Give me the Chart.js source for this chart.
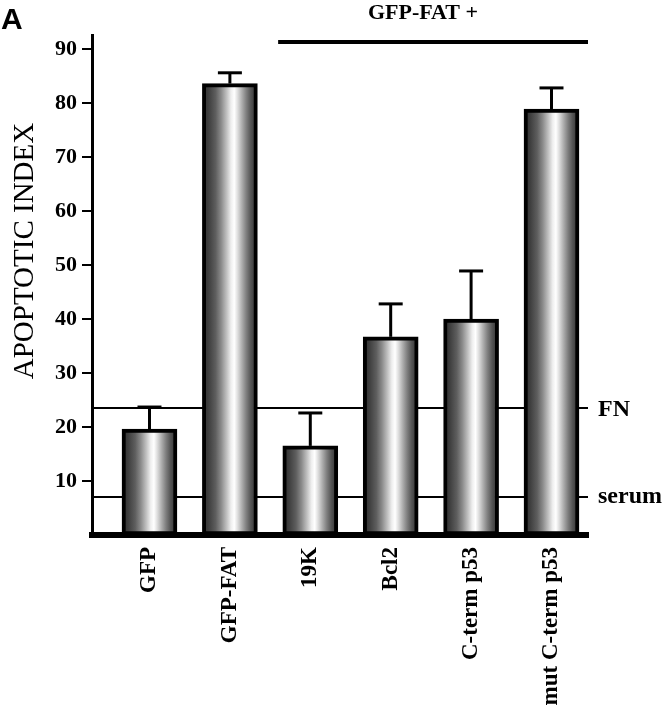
<!DOCTYPE html>
<html><head><meta charset="utf-8">
<script src="https://cdn.jsdelivr.net/npm/chart.js@4/dist/chart.umd.min.js"></script>
<style>html,body{margin:0;padding:0;background:#fff}#wrap{width:670px;height:719px}</style>
</head><body><div id="wrap"><canvas id="c" width="670" height="719"></canvas></div>
<script>
// ---- data ----
const categories = ['GFP', 'GFP-FAT', '19K', 'Bcl2', 'C-term p53', 'mut C-term p53'];
const apoptoticIndex = [19.6, 83.6, 16.5, 36.7, 40.0, 78.9];
const errorUp = [4.1, 2.0, 6.1, 6.1, 8.9, 3.9];
const yTicks = [10, 20, 30, 40, 50, 60, 70, 80, 90];
const refLabels = ['FN', 'serum'];
const refValues = [23.6, 7.1];
const yTitle = 'APOPTOTIC INDEX';
const groupLabel = 'GFP-FAT +';
const panelLabel = 'A';

const SERIF = "'Liberation Serif', 'DejaVu Serif', serif";
const BAR_W = 55;

function barGradient(ctx) {
  const chart = ctx.chart;
  if (!chart.chartArea || !chart.scales.x) return '#888';
  const cx = chart.scales.x.getPixelForValue(ctx.dataIndex);
  const g = chart.ctx.createLinearGradient(cx - BAR_W / 2, 0, cx + BAR_W / 2, 0);
  const stops = [[0, '#2a2a2a'], [0.12, '#404040'], [0.24, '#5e5e5e'], [0.34, '#8a8a8a'], [0.44, '#c0c0c0'],
    [0.52, '#eeeeee'], [0.58, '#ffffff'], [0.64, '#dedede'], [0.72, '#adadad'], [0.8, '#7e7e7e'],
    [0.88, '#555555'], [1, '#2a2a2a']];
  stops.forEach(s => g.addColorStop(s[0], s[1]));
  return g;
}

const overlay = {
  id: 'overlay',
  beforeDatasetsDraw(chart) {
    const { ctx, chartArea: a, scales: { y } } = chart;
    ctx.save();
    ctx.strokeStyle = '#000';
    ctx.lineWidth = 2;
    refValues.forEach(v => {
      const py = Math.round(y.getPixelForValue(v));
      ctx.beginPath(); ctx.moveTo(a.left, py); ctx.lineTo(a.right, py); ctx.stroke();
    });
    ctx.restore();
  },
  afterDatasetsDraw(chart) {
    const { ctx, chartArea: a, scales: { x, y } } = chart;
    ctx.save();
    // error bars
    ctx.strokeStyle = '#000';
    ctx.lineWidth = 3;
    apoptoticIndex.forEach((v, i) => {
      const px = x.getPixelForValue(i);
      const p0 = y.getPixelForValue(v);
      const p1 = y.getPixelForValue(v + errorUp[i]);
      ctx.beginPath(); ctx.moveTo(px, p0); ctx.lineTo(px, p1); ctx.stroke();
      ctx.beginPath(); ctx.moveTo(px - 12, p1); ctx.lineTo(px + 12, p1); ctx.stroke();
    });
    // reference labels
    ctx.fillStyle = '#000';
    ctx.font = 'bold 24px ' + SERIF;
    ctx.textAlign = 'left';
    ctx.textBaseline = 'alphabetic';
    refValues.forEach((v, i) => {
      const py = y.getPixelForValue(v);
      ctx.fillText(refLabels[i], a.right + 10, py + (i === 0 ? 8 : 6));
    });
    // group bar
    ctx.lineWidth = 4;
    ctx.beginPath();
    ctx.moveTo(x.getPixelForValue(1.6), 42);
    ctx.lineTo(a.right, 42);
    ctx.stroke();
    ctx.font = 'bold 22px ' + SERIF;
    ctx.textAlign = 'center';
    ctx.fillText(groupLabel, 423, 19);
    // panel label
    ctx.font = "bold 30px 'Liberation Sans', Arial, sans-serif";
    ctx.textAlign = 'left';
    ctx.fillText(panelLabel, 1, 29);
    // y title
    ctx.translate(33, 251);
    ctx.rotate(-Math.PI / 2);
    ctx.font = '29px ' + SERIF;
    ctx.textAlign = 'center';
    ctx.fillText(yTitle, 0, 0);
    ctx.restore();
  }
};

new Chart(document.getElementById('c'), {
  type: 'bar',
  data: {
    datasets: [{
      data: apoptoticIndex.map((v, i) => ({ x: i, y: v })),
      backgroundColor: barGradient,
      borderColor: '#000',
      borderWidth: 4,
      borderSkipped: false,
      barThickness: BAR_W
    }]
  },
  options: {
    responsive: false,
    devicePixelRatio: 1,
    animation: false,
    events: [],
    layout: { padding: { left: 0, top: 35, right: 82, bottom: 0 } },
    plugins: { legend: { display: false }, tooltip: { enabled: false } },
    scales: {
      x: {
        type: 'linear',
        offset: false,
        min: -0.715,
        max: 5.454,
        z: 1,
        afterBuildTicks: s => { s.ticks = categories.map((c, i) => ({ value: i })); },
        afterFit: s => { s.height = 184; },
        grid: { display: false, drawTicks: false },
        border: { display: true, width: 6, color: '#000' },
        ticks: {
          autoSkip: false,
          minRotation: 90,
          maxRotation: 90,
          padding: 12,
          color: '#000',
          font: { family: SERIF, size: 23, weight: 'bold' },
          callback: v => categories[v]
        }
      },
      y: {
        min: 0,
        max: 92.6,
        z: 1,
        afterBuildTicks: s => { s.ticks = yTicks.map(v => ({ value: v })); },
        afterFit: s => { s.width = 92; },
        grid: { display: true, drawOnChartArea: false, drawTicks: true, tickLength: 10, lineWidth: 2, color: '#000' },
        border: { display: true, width: 3, color: '#000' },
        ticks: {
          padding: 5,
          color: '#000',
          font: { family: SERIF, size: 22, weight: 'bold' }
        }
      }
    }
  },
  plugins: [overlay]
});
</script>
</body></html>
